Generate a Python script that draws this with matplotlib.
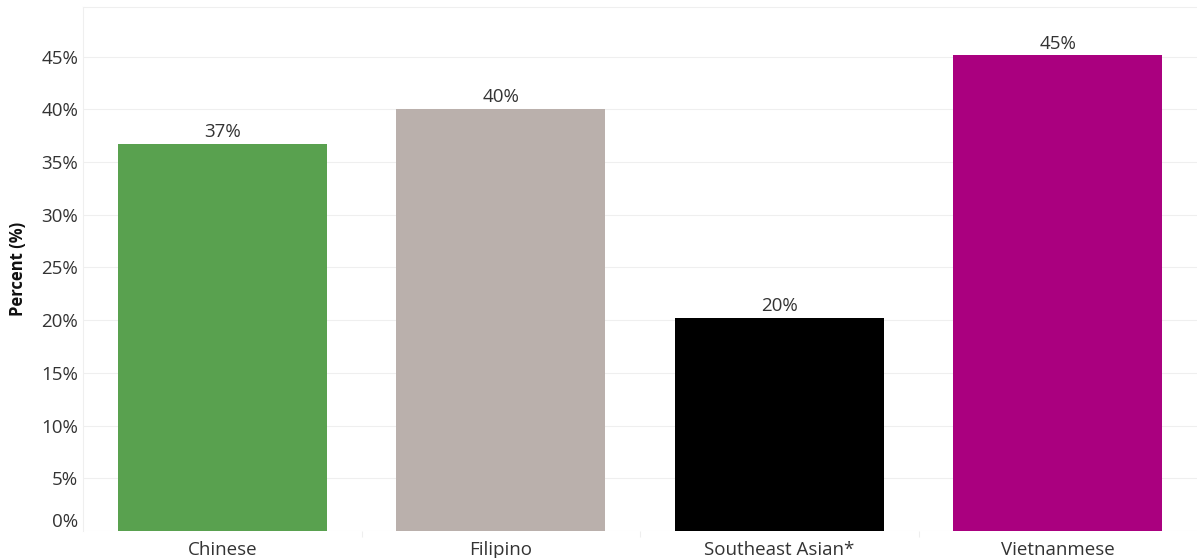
import matplotlib
matplotlib.use("Agg")
import matplotlib.pyplot as plt
import numpy as np

categories = ["Chinese", "Filipino", "Southeast Asian*", "Vietnanmese"]
values = [36.7, 40.0, 20.2, 45.1]
labels = ["37%", "40%", "20%", "45%"]
colors = ["#59A14F", "#BAB0AC", "#000000", "#AA007F"]
yticks = [0, 5, 10, 15, 20, 25, 30, 35, 40, 45]

plt.rcParams['font.family'] = ['Open Sans', 'DejaVu Sans']

fig = plt.figure(figsize=(11.97, 5.58), dpi=100)
ax = fig.add_axes([83/1197, 1 - 531/558, (1197 - 83)/1197, (531 - 7)/558])

x = np.arange(len(categories))
bars = ax.bar(x, values, width=0.75, color=colors, zorder=3)
for xi, v, lab in zip(x, values, labels):
    ax.annotate(lab, (xi, v), xytext=(0, 2), textcoords="offset points",
                ha="center", va="bottom", fontsize=13.5, color="#333333")

ax.set_xlim(-0.5, len(categories) - 0.5)
ax.set_ylim(0, 49.7)
ax.set_yticks(yticks)
ax.set_yticklabels([f"{t}%" for t in yticks], fontsize=13.5, color="#333333")
for lbl, t in zip(ax.get_yticklabels(), yticks):
    if t == 0:
        lbl.set_va("bottom")
ax.tick_params(axis="y", length=0, pad=3.5)
ax.set_xticks(x)
ax.set_xticklabels(categories, fontsize=13.5, color="#333333")
ax.tick_params(axis="x", length=0, pad=7)
ax.set_xticks(np.arange(len(categories) - 1) + 0.5, minor=True)
ax.tick_params(axis="x", which="minor", length=4, color="#eeeeee", width=0.8)

ax.grid(axis="y", color="#efefef", linewidth=0.8, zorder=0)
for side in ["right", "bottom"]:
    ax.spines[side].set_visible(False)
ax.spines["top"].set_color("#efefef")
ax.spines["left"].set_color("#efefef")
ax.spines["top"].set_linewidth(0.8)
ax.spines["left"].set_linewidth(0.8)

ax.set_ylabel("Percent (%)", fontsize=12, fontweight="bold", color="#111111", labelpad=10)

fig.savefig("out.png", dpi=100)
